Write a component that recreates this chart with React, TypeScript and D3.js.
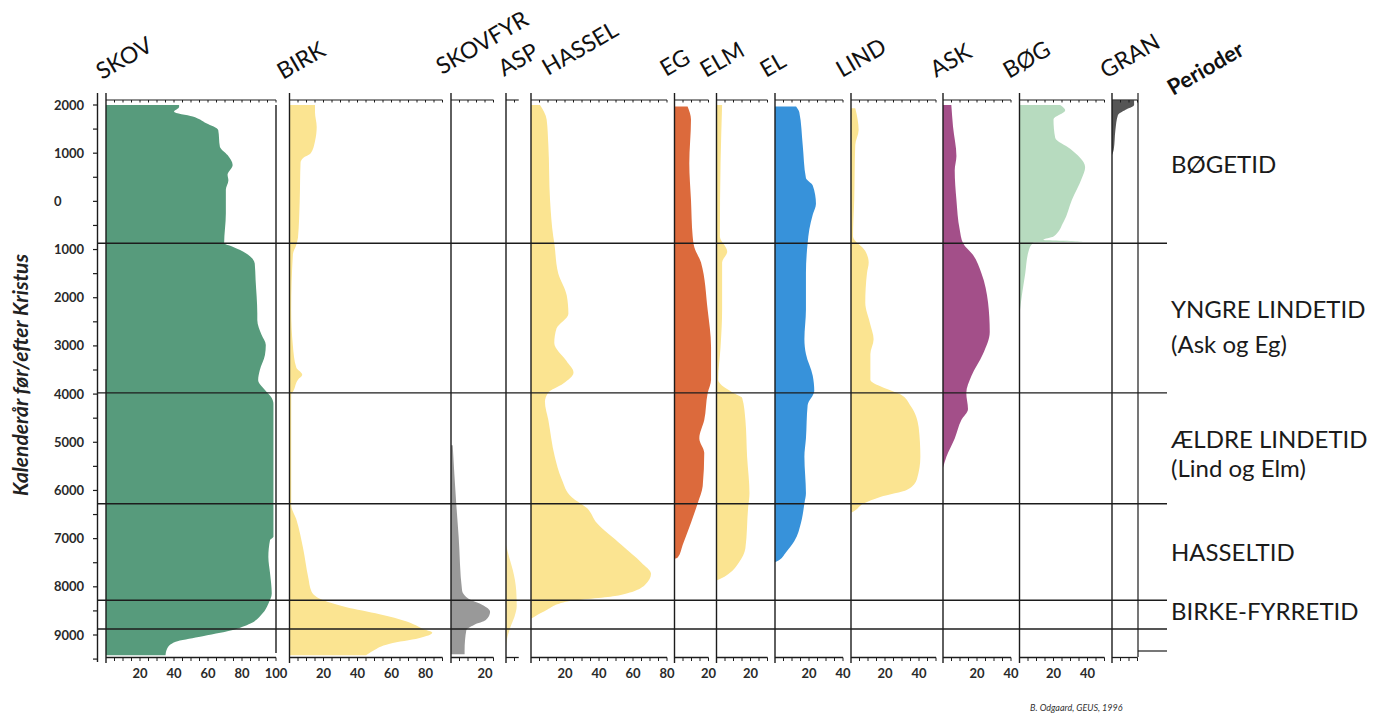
import React, { useEffect, useRef } from "react";
import * as d3 from "d3";

// calendar year (AD > 0, BC < 0) and pollen percentage
const skov = [[2000,43],[1960,43],[1860,40],[1760,51],[1620,59],[1480,66],[1135,67],[960,71.5],[755,74.5],[550,71.5],[440,72],[240,70.5],[-250,70.5],[-870,69.5],[-940,74.5],[-1080,82.5],[-1290,87.5],[-1630,88],[-2320,89],[-2460,89],[-2770,91.5],[-2980,94],[-3190,93.5],[-3500,90.5],[-3710,89.5],[-3915,93.5],[-4080,97.5],[-4200,98.5],[-6960,98.5],[-7030,96.5],[-7380,95.5],[-7720,96.5],[-8140,97.5],[-8350,95.5],[-8555,92],[-8760,85],[-8900,74],[-9040,54.5],[-9140,41],[-9280,36],[-9420,35]];
const birk = [[2000,15],[1850,15],[1550,16],[1250,15],[1000,12.5],[900,8],[800,6.5],[0,6],[-750,5],[-900,4],[-1100,2],[-2250,1],[-3000,2],[-3450,4],[-3600,7.5],[-3700,5],[-3950,2],[-4000,1],[-5300,1],[-6300,1],[-6600,4],[-7200,8],[-7800,11],[-8100,13],[-8280,20],[-8420,33],[-8570,53],[-8720,69],[-8880,79],[-8950,84],[-9070,76],[-9180,59],[-9330,49],[-9420,45]];
const skovfyr = [[-5060,1],[-6230,3],[-6960,4.5],[-8070,6.5],[-8270,11.5],[-8375,18.5],[-8515,23],[-8690,20.5],[-8790,13.5],[-8900,9],[-9315,8],[-9400,8]];
const asp = [[-7130,0],[-7400,2],[-7650,4],[-8070,6],[-8400,6.3],[-8620,5],[-8800,3],[-8960,1.5],[-9100,0.5],[-9250,0]];
const hassel = [[2000,5.3],[1700,9.2],[1170,10.2],[30,11.2],[-730,13.1],[-870,13.7],[-1490,16],[-1950,21],[-2330,22],[-2640,15],[-2940,13.7],[-3320,21],[-3550,25],[-3780,19],[-3975,10],[-4160,8.2],[-4540,10.2],[-5300,14],[-5760,18],[-6140,24],[-6360,32.7],[-6670,38.6],[-7130,53.3],[-7500,65],[-7730,70.6],[-7960,67],[-8190,49.4],[-8300,22],[-8500,8.2],[-8650,0.5]];
const eg = [[1970,7.7],[1700,9.7],[790,8.7],[30,9.7],[-730,10.7],[-960,11.7],[-1270,15.6],[-2250,19.5],[-3020,21.5],[-3700,21.5],[-3980,19.5],[-4540,17.5],[-4920,14.6],[-5220,17.5],[-5910,16.6],[-6270,13.6],[-6670,9.7],[-7130,4.8],[-7390,1.9],[-7420,0]];
const elm = [[2000,3.3],[790,2.4],[-730,2],[-1040,6.3],[-1270,3.3],[-2250,3.3],[-3020,2.4],[-3700,1],[-4000,11.2],[-4080,15.1],[-4540,17],[-5300,18],[-6060,19.4],[-6360,18.6],[-7200,17],[-7500,13.1],[-7730,7.2],[-7850,1.4],[-7870,0]];
const el = [[1970,12.4],[1850,14.3],[1170,16.3],[485,18.2],[330,22.2],[-50,24.1],[-280,22.2],[-580,20.2],[-870,19.2],[-1490,18.2],[-2250,18.2],[-2860,17.3],[-3170,18.2],[-3620,22.2],[-3930,23.1],[-4230,19.2],[-4920,18.2],[-5300,17.3],[-6060,18.2],[-6270,17.3],[-6670,15.3],[-7050,11.4],[-7280,6.5],[-7470,1.2],[-7490,0]];
const lind = [[1930,2.5],[1700,3.9],[1480,4.5],[1170,2.5],[30,1.9],[-730,1.2],[-1030,8.4],[-1270,10.4],[-1490,9.4],[-2100,8.4],[-2560,11.4],[-2860,13.3],[-3170,11.4],[-3700,11.4],[-3895,21.2],[-4005,29],[-4235,34.9],[-4690,39.8],[-5300,40.8],[-5760,38.8],[-5985,33],[-6135,17.2],[-6270,7.4],[-6440,1.2],[-6460,0]];
const ask = [[2000,4.9],[1550,5.9],[940,7.9],[640,6.9],[30,7.9],[-580,9.8],[-870,11.8],[-1110,17.6],[-1490,22.6],[-2100,26.5],[-2710,27.5],[-3170,23.5],[-3625,16.7],[-3975,13.7],[-4310,14.7],[-4540,10.8],[-4920,6.9],[-5300,2],[-5530,0]];
const bog = [[2000,23.9],[1890,26.9],[1700,20],[1320,21],[1090,29.8],[710,38.6],[485,36.7],[30,30.8],[-430,25.9],[-730,20],[-800,14],[-830,37.6],[-860,8],[-1040,5.3],[-1490,3.4],[-1950,1.4],[-2330,0]];
const gran = [[2100,13],[2000,13],[1900,8],[1790,3.5],[1480,2],[1070,1],[960,0]];

// tick labels under each panel (percent)
const skovTicks = [20, 40, 60, 80, 100];
const birkTicks = [20, 40, 60, 80];
const skovfyrTicks = [20];
const aspTicks: number[] = [];
const hasselTicks = [20, 40, 60, 80];
const egTicks = [20];
const elmTicks = [20];
const elTicks = [20, 40];
const lindTicks = [20, 40];
const askTicks = [20, 40];
const bogTicks = [20, 40];
const granTicks: number[] = [];

// year axis labels
const yearTicks = [2000, 1000, 0, -1000, -2000, -3000, -4000, -5000, -6000, -7000, -8000, -9000];

// period boundaries and names
const periodBounds = [-870, -3975, -6275, -8280, -8875];
const periodNames = [["BØGETID"], ["YNGRE LINDETID", "(Ask og Eg)"], ["ÆLDRE LINDETID", "(Lind og Elm)"], ["HASSELTID"], ["BIRKE-FYRRETID"]];

const PX = 1.7; // pixels per percent

const panels = [
  { name: "SKOV", data: skov, max: 100, left: 106, color: "#579b7c", ticks: skovTicks, lx: 102, ly: 80 },
  { name: "BIRK", data: birk, max: 90, left: 289.5, color: "#fbe491", ticks: birkTicks, lx: 283, ly: 80 },
  { name: "SKOVFYR", data: skovfyr, max: 25, left: 451, color: "#999999", ticks: skovfyrTicks, lx: 442, ly: 75 },
  { name: "ASP", data: asp, max: 7.5, left: 506, color: "#fbe7a0", ticks: aspTicks, lx: 504, ly: 77 },
  { name: "HASSEL", data: hassel, max: 80, left: 531, color: "#fbe491", ticks: hasselTicks, lx: 548, ly: 76 },
  { name: "EG", data: eg, max: 20, left: 674.5, color: "#dc6a3c", ticks: egTicks, lx: 666, ly: 77 },
  { name: "ELM", data: elm, max: 30, left: 716.5, color: "#fbe491", ticks: elmTicks, lx: 706, ly: 78 },
  { name: "EL", data: el, max: 40, left: 775, color: "#3792da", ticks: elTicks, lx: 766, ly: 78 },
  { name: "LIND", data: lind, max: 50, left: 851, color: "#fbe491", ticks: lindTicks, lx: 842, ly: 78 },
  { name: "ASK", data: ask, max: 40, left: 943, color: "#a34f89", ticks: askTicks, lx: 936, ly: 78 },
  { name: "BØG", data: bog, max: 50, left: 1019.5, color: "#b7dbbf", ticks: bogTicks, lx: 1009, ly: 79 },
  { name: "GRAN", data: gran, max: 15, left: 1112, color: "#555555", ticks: granTicks, lx: 1106, ly: 79 },
];

const PollenDiagram = () => {
  const ref = useRef<SVGSVGElement>(null);

  useEffect(() => {
    const svg = d3.select(ref.current);
    svg.selectAll("*").remove();

    const y = d3.scaleLinear().domain([2000, -9000]).range([105, 635]);
    const axisTop = 100, axisBottom = 657.5;
    const ink = "#1c1c1c";
    const font = "Lato, 'Open Sans', sans-serif";

    // areas first, lines on top
    const gAreas = svg.append("g");
    const gLines = svg.append("g");

    panels.forEach((p) => {
      const x = d3.scaleLinear().domain([0, p.max]).range([p.left, p.left + p.max * PX]);
      const area = d3
        .area<number[]>()
        .y((d) => y(d[0]))
        .x0(x(0))
        .x1((d) => x(d[1]))
        .curve(d3.curveMonotoneY);
      gAreas.append("path").attr("d", area(p.data as number[][])).attr("fill", p.color);

      // vertical axis of the panel
      gLines.append("line")
        .attr("x1", x(0)).attr("x2", x(0))
        .attr("y1", 93).attr("y2", 663)
        .attr("stroke", ink).attr("stroke-width", 1.4);

      // top and bottom scale lines with 5% ticks
      [axisTop, axisBottom].forEach((ay) => {
        gLines.append("line")
          .attr("x1", x(0)).attr("x2", x(p.max))
          .attr("y1", ay).attr("y2", ay)
          .attr("stroke", ink).attr("stroke-width", ay === axisTop ? 1.1 : 1.3);
        gLines.selectAll(null)
          .data(d3.range(5, p.max + 0.01, 5))
          .enter()
          .append("line")
          .attr("x1", (d) => x(d)).attr("x2", (d) => x(d))
          .attr("y1", ay).attr("y2", ay + (ay === axisTop ? 2.5 : 3.5))
          .attr("stroke", ink).attr("stroke-width", 1);
      });

      gLines.selectAll(null)
        .data(p.ticks)
        .enter()
        .append("text")
        .attr("x", (d) => x(d))
        .attr("y", 678)
        .attr("text-anchor", "middle")
        .style("font-family", font)
        .style("font-weight", 700)
        .style("font-size", "13px")
        .attr("fill", "#2a2a2a")
        .text((d) => d);

      // rotated header
      gLines.append("text")
        .attr("transform", `translate(${p.lx},${p.ly}) rotate(-30)`)
        .style("font-family", font)
        .style("font-size", "23px")
        .attr("fill", "#111")
        .text(p.name);
    });

    // SKOV 100% border
    const skovX = d3.scaleLinear().domain([0, 100]).range([106, 106 + 100 * PX]);
    gLines.append("line")
      .attr("x1", skovX(100)).attr("x2", skovX(100))
      .attr("y1", 105).attr("y2", 653)
      .attr("stroke", ink).attr("stroke-width", 1.4);

    // GRAN right border
    gLines.append("line")
      .attr("x1", 1138).attr("x2", 1138)
      .attr("y1", 93).attr("y2", 657)
      .attr("stroke", ink).attr("stroke-width", 1.2);
    gLines.append("line")
      .attr("x1", 1138).attr("x2", 1167)
      .attr("y1", 651).attr("y2", 651)
      .attr("stroke", ink).attr("stroke-width", 1.2);

    // period boundaries
    gLines.selectAll(null)
      .data(periodBounds)
      .enter()
      .append("line")
      .attr("x1", 97).attr("x2", 1167)
      .attr("y1", (d) => y(d)).attr("y2", (d) => y(d))
      .attr("stroke", ink).attr("stroke-width", 1.4);

    // year axis
    gLines.append("line")
      .attr("x1", 97.5).attr("x2", 97.5)
      .attr("y1", 93).attr("y2", 662)
      .attr("stroke", ink).attr("stroke-width", 1.4);
    gLines.selectAll(null)
      .data(d3.range(2000, -9501, -500))
      .enter()
      .append("line")
      .attr("x1", 93).attr("x2", 97.5)
      .attr("y1", (d) => y(d)).attr("y2", (d) => y(d))
      .attr("stroke", ink).attr("stroke-width", 1.2);
    gLines.selectAll(null)
      .data(yearTicks)
      .enter()
      .append("text")
      .attr("x", 54)
      .attr("y", (d) => y(d) + 4.5)
      .style("font-family", font)
      .style("font-weight", 700)
      .style("font-size", "13px")
      .attr("fill", "#2a2a2a")
      .text((d) => Math.abs(d));

    svg.append("text")
      .attr("transform", "translate(28,375) rotate(-90)")
      .attr("text-anchor", "middle")
      .style("font-family", font)
      .style("font-weight", 700)
      .style("font-style", "italic")
      .style("font-size", "21px")
      .attr("fill", "#222")
      .text("Kalenderår før/efter Kristus");

    // period names
    const periodBaselines = [[173], [318, 353], [448, 477], [561], [620]];
    periodNames.forEach((lines, i) => {
      lines.forEach((t, j) => {
        svg.append("text")
          .attr("x", 1171)
          .attr("y", periodBaselines[i][j])
          .style("font-family", font)
          .style("font-size", "24px")
          .attr("fill", "#1a1a1a")
          .text(t);
      });
    });

    svg.append("text")
      .attr("transform", "translate(1173,96) rotate(-30)")
      .style("font-family", font)
      .style("font-weight", 700)
      .style("font-size", "22px")
      .attr("fill", "#111")
      .text("Perioder");

    svg.append("text")
      .attr("x", 1030)
      .attr("y", 711)
      .style("font-family", font)
      .style("font-style", "italic")
      .style("font-size", "9px")
      .attr("fill", "#333")
      .text("B. Odgaard, GEUS, 1996");
  }, []);

  return (
    <svg
      ref={ref}
      width={1375}
      height={715}
      style={{ position: "absolute", left: 0, top: 0, background: "#fff" }}
    />
  );
};

export default function App() {
  return <PollenDiagram />;
}
